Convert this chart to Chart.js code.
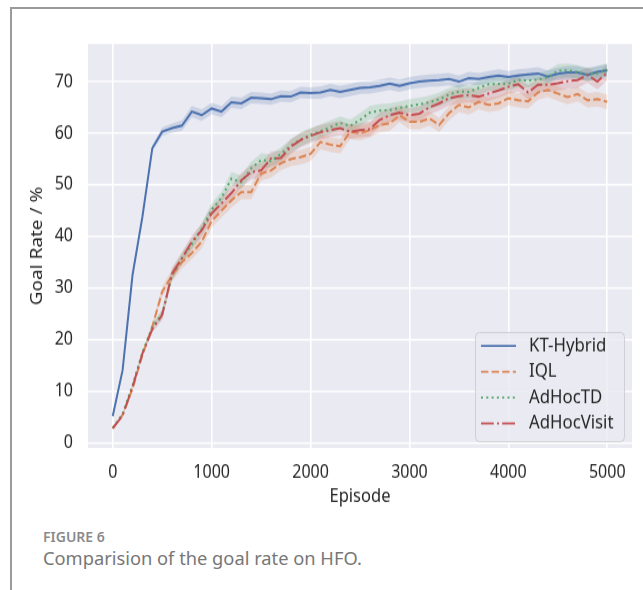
<!DOCTYPE html>
<html>
<head>
<meta charset="utf-8">
<script src="https://cdn.jsdelivr.net/npm/chart.js@4.4.1/dist/chart.umd.min.js"></script>
<style>
html,body{margin:0;padding:0;background:#fff;}
#wrap{position:relative;width:643px;height:590px;overflow:hidden;background:#fff;}
#frame{position:absolute;left:10px;top:7px;width:800px;height:800px;border-left:2px solid #9b9b9b;border-top:2px solid #9b9b9b;}
#stretch{position:absolute;left:0;top:0;width:643px;height:444px;transform:scaleY(1.148649);transform-origin:0 0;}
#figlabel{position:absolute;left:43px;top:527px;font:600 14px 'Noto Sans',sans-serif;color:#8a8a8a;white-space:nowrap;}
#caption{position:absolute;left:43px;top:545px;font:18.3px 'Noto Sans',sans-serif;color:#777777;white-space:nowrap;}
</style>
</head>
<body>
<div id="wrap">
  <div id="frame"></div>
  <div id="stretch"><canvas id="c" width="643" height="444"></canvas></div>
  <div id="figlabel">FIGURE 6</div>
  <div id="caption">Comparision of the goal rate on HFO.</div>
</div>
<script>
// ---------- data ----------
const episodes = [0,100,200,300,400,500,600,700,800,900,1000,1100,1200,1300,1400,1500,1600,1700,1800,1900,2000,2100,2200,2300,2400,2500,2600,2700,2800,2900,3000,3100,3200,3300,3400,3500,3600,3700,3800,3900,4000,4100,4200,4300,4400,4500,4600,4700,4800,4900,5000];

const ktHybrid = [5.2,14.1,32.5,43.8,57.1,60.3,61.0,61.5,64.2,63.5,64.8,64.2,66.0,65.8,66.9,66.8,66.6,67.2,67.1,67.9,67.8,67.9,68.4,68.0,68.4,68.8,68.9,69.2,69.6,69.2,69.7,70.0,70.2,70.3,70.5,70.0,70.7,70.5,70.9,71.2,70.9,71.2,71.4,71.6,71.0,71.5,71.8,71.8,71.3,71.9,72.2];
const iql = [2.8,5.4,10.5,17.0,22.5,29.3,32.5,35.0,36.8,39.0,43.0,45.0,47.0,48.6,48.6,52.2,52.8,54.2,55.0,55.4,56.0,58.3,57.8,57.5,60.3,60.0,60.6,61.6,61.9,63.5,62.2,62.2,62.9,61.6,63.9,65.5,65.0,66.1,65.5,65.8,66.8,66.4,66.2,67.9,68.4,67.7,67.0,67.6,66.4,66.6,66.1];
const adHocTD = [2.9,5.6,11.2,17.5,22.5,25.0,32.5,35.8,38.5,41.5,45.2,47.5,51.2,50.5,53.2,54.8,54.6,56.0,57.6,58.8,59.7,60.4,61.2,62.0,61.4,62.6,64.0,64.4,64.5,64.9,65.3,65.6,66.0,66.6,67.5,68.1,68.0,68.8,69.5,69.6,69.6,70.3,70.2,70.4,70.9,72.1,72.2,71.9,71.4,71.6,72.3];
const adHocVisit = [2.8,5.3,10.8,17.3,22.0,24.8,32.8,35.8,39.0,41.2,44.5,46.4,48.4,50.9,52.5,52.8,55.1,55.2,57.4,58.7,59.5,60.2,60.6,61.0,60.3,60.6,60.8,62.6,63.5,64.0,63.5,63.8,65.0,65.8,66.8,67.2,67.4,67.1,67.7,68.3,69.0,69.5,67.9,69.4,69.4,69.7,70.1,70.3,71.3,70.0,71.8];

// half-width of the shaded confidence band
const ktHybridBand = [0.2,0.3,0.4,0.5,0.6,0.8,0.9,1.0,1.1,1.1,1.1,1.1,1.1,1.1,1.1,1.1,1.1,1.1,1.1,1.1,1.1,1.2,1.2,1.2,1.2,1.2,1.2,1.2,1.2,1.2,1.2,1.2,1.2,1.2,1.2,1.2,1.2,1.2,1.2,1.2,1.2,1.2,1.2,1.2,1.2,1.2,1.2,1.2,1.2,1.2,1.2];
const iqlBand = [0.2,0.3,0.3,0.4,0.6,1.0,1.2,1.2,1.2,1.3,1.3,1.3,1.4,1.4,1.4,1.4,1.4,1.4,1.4,1.4,1.4,1.4,1.4,1.4,1.4,1.4,1.4,1.4,1.4,1.4,1.4,1.4,1.4,1.4,1.4,1.4,1.4,1.4,1.4,1.4,1.4,1.4,1.4,1.4,1.4,1.4,1.4,1.4,1.4,1.4,1.4];
const adHocTDBand = [0.2,0.3,0.3,0.4,0.6,0.9,1.0,1.0,1.1,1.1,1.2,1.2,1.3,1.3,1.3,1.3,1.3,1.3,1.3,1.3,1.3,1.3,1.3,1.3,1.3,1.3,1.3,1.3,1.3,1.3,1.3,1.3,1.3,1.3,1.3,1.3,1.3,1.3,1.3,1.3,1.3,1.3,1.3,1.3,1.3,1.3,1.3,1.3,1.3,1.3,1.3];
const adHocVisitBand = [0.2,0.3,0.3,0.4,0.7,1.0,1.2,1.2,1.2,1.3,1.3,1.3,1.4,1.4,1.4,1.4,1.4,1.4,1.4,1.4,1.4,1.4,1.4,1.4,1.4,1.4,1.4,1.4,1.4,1.4,1.4,1.4,1.4,1.4,1.4,1.4,1.4,1.4,1.4,1.4,1.4,1.4,1.4,1.4,1.4,1.4,1.5,1.5,1.5,1.5,1.5];

const seriesNames = ['KT-Hybrid','IQL','AdHocTD','AdHocVisit'];
const xTickValues = [0,1000,2000,3000,4000,5000];
const yTickValues = [0,10,20,30,40,50,60,70];
const xTitle = 'Episode';
const yTitle = 'Goal Rate / %';

// ---------- styles ----------
const seriesValues = [ktHybrid, iql, adHocTD, adHocVisit];
const seriesBands = [ktHybridBand, iqlBand, adHocTDBand, adHocVisitBand];
const colors = ['#4c72b0','#dd8452','#55a868','#c44e52'];
const bandColors = ['rgba(76,114,176,0.2)','rgba(221,132,82,0.2)','rgba(85,168,104,0.2)','rgba(196,78,82,0.2)'];
const dashes = [[], [7.4,3.2], [2,3.3], [12.8,3.2,2,3.2]];
const FONT = "'Noto Sans', 'Open Sans', sans-serif";
const TEXT = '#262626';

const datasets = [];
seriesValues.forEach((vals, i) => {
  const band = seriesBands[i];
  datasets.push({
    label: seriesNames[i] + ' lower',
    data: episodes.map((e, j) => ({x: e, y: vals[j] - band[j]})),
    borderWidth: 0, pointRadius: 0, fill: false, order: 20 + i, borderColor: 'rgba(0,0,0,0)'
  });
  datasets.push({
    label: seriesNames[i] + ' upper',
    data: episodes.map((e, j) => ({x: e, y: vals[j] + band[j]})),
    borderWidth: 0, pointRadius: 0, fill: '-1', backgroundColor: bandColors[i], order: 20 + i, borderColor: 'rgba(0,0,0,0)'
  });
});
seriesValues.forEach((vals, i) => {
  datasets.push({
    label: seriesNames[i],
    data: episodes.map((e, j) => ({x: e, y: vals[j]})),
    borderColor: colors[i], borderWidth: 2, borderDash: dashes[i], borderCapStyle: 'butt',
    pointRadius: 0, fill: false, tension: 0, order: 10 - i
  });
});

const bgPlugin = {
  id: 'bg',
  beforeDraw(chart) {
    const {ctx, chartArea: a} = chart;
    ctx.save();
    ctx.fillStyle = '#eaeaf2';
    ctx.fillRect(a.left, a.top, a.right - a.left, a.bottom - a.top);
    ctx.restore();
  }
};

const legendPlugin = {
  id: 'customLegend',
  afterDraw(chart) {
    const {ctx, chartArea: a} = chart;
    const bw = 149, bh = 95;
    const bx = a.right - 8 - bw, by = a.bottom - 6 - bh;
    ctx.save();
    ctx.beginPath();
    ctx.roundRect(bx + 0.5, by + 0.5, bw, bh, 4);
    ctx.fillStyle = 'rgba(234,234,242,0.8)';
    ctx.fill();
    ctx.strokeStyle = '#cfcfd4';
    ctx.lineWidth = 1;
    ctx.stroke();
    seriesNames.forEach((name, i) => {
      const y = by + 12.2 + i * 22.46;
      ctx.beginPath();
      ctx.setLineDash(dashes[i]);
      ctx.lineCap = 'butt';
      ctx.strokeStyle = colors[i];
      ctx.lineWidth = 1.8;
      ctx.moveTo(bx + 6, y);
      ctx.lineTo(bx + 41, y);
      ctx.stroke();
      ctx.setLineDash([]);
      ctx.fillStyle = TEXT;
      ctx.font = "16.8px " + FONT;
      ctx.textBaseline = 'middle';
      ctx.textAlign = 'left';
      ctx.fillText(name, bx + 54, y);
    });
    ctx.restore();
  }
};

new Chart(document.getElementById('c'), {
  type: 'line',
  data: { datasets },
  plugins: [bgPlugin, legendPlugin],
  options: {
    responsive: false,
    animation: false,
    devicePixelRatio: 1,
    layout: { padding: { left: 0, top: 38.3, right: 11, bottom: 1.4 } },
    plugins: { legend: { display: false }, tooltip: { enabled: false } },
    scales: {
      x: {
        type: 'linear', min: -250, max: 5250,
        afterBuildTicks: (s) => { s.ticks = xTickValues.map(v => ({value: v})); },
        afterFit: (s) => { s.height = 52.6; },
        grid: { color: '#ffffff', lineWidth: 1.6, drawTicks: false },
        border: { display: false },
        ticks: { padding: 12.2, color: TEXT, font: { family: FONT, size: 16 }, maxRotation: 0, callback: (v) => String(v) },
        title: { display: true, text: xTitle, color: TEXT, font: { family: FONT, size: 16.5 }, padding: { top: 0, bottom: 0 } }
      },
      y: {
        type: 'linear', min: -1, max: 77.3,
        afterBuildTicks: (s) => { s.ticks = yTickValues.map(v => ({value: v})); },
        afterFit: (s) => { s.width = 88; },
        grid: { color: '#ffffff', lineWidth: 1.4, drawTicks: false },
        border: { display: false },
        ticks: { padding: 15, color: TEXT, font: { family: FONT, size: 16 }, callback: (v) => String(v) },
        title: { display: true, text: yTitle, color: TEXT, font: { family: FONT, size: 16.5 }, padding: { top: 27.1, bottom: 0 } }
      }
    }
  }
});
</script>
</body>
</html>
